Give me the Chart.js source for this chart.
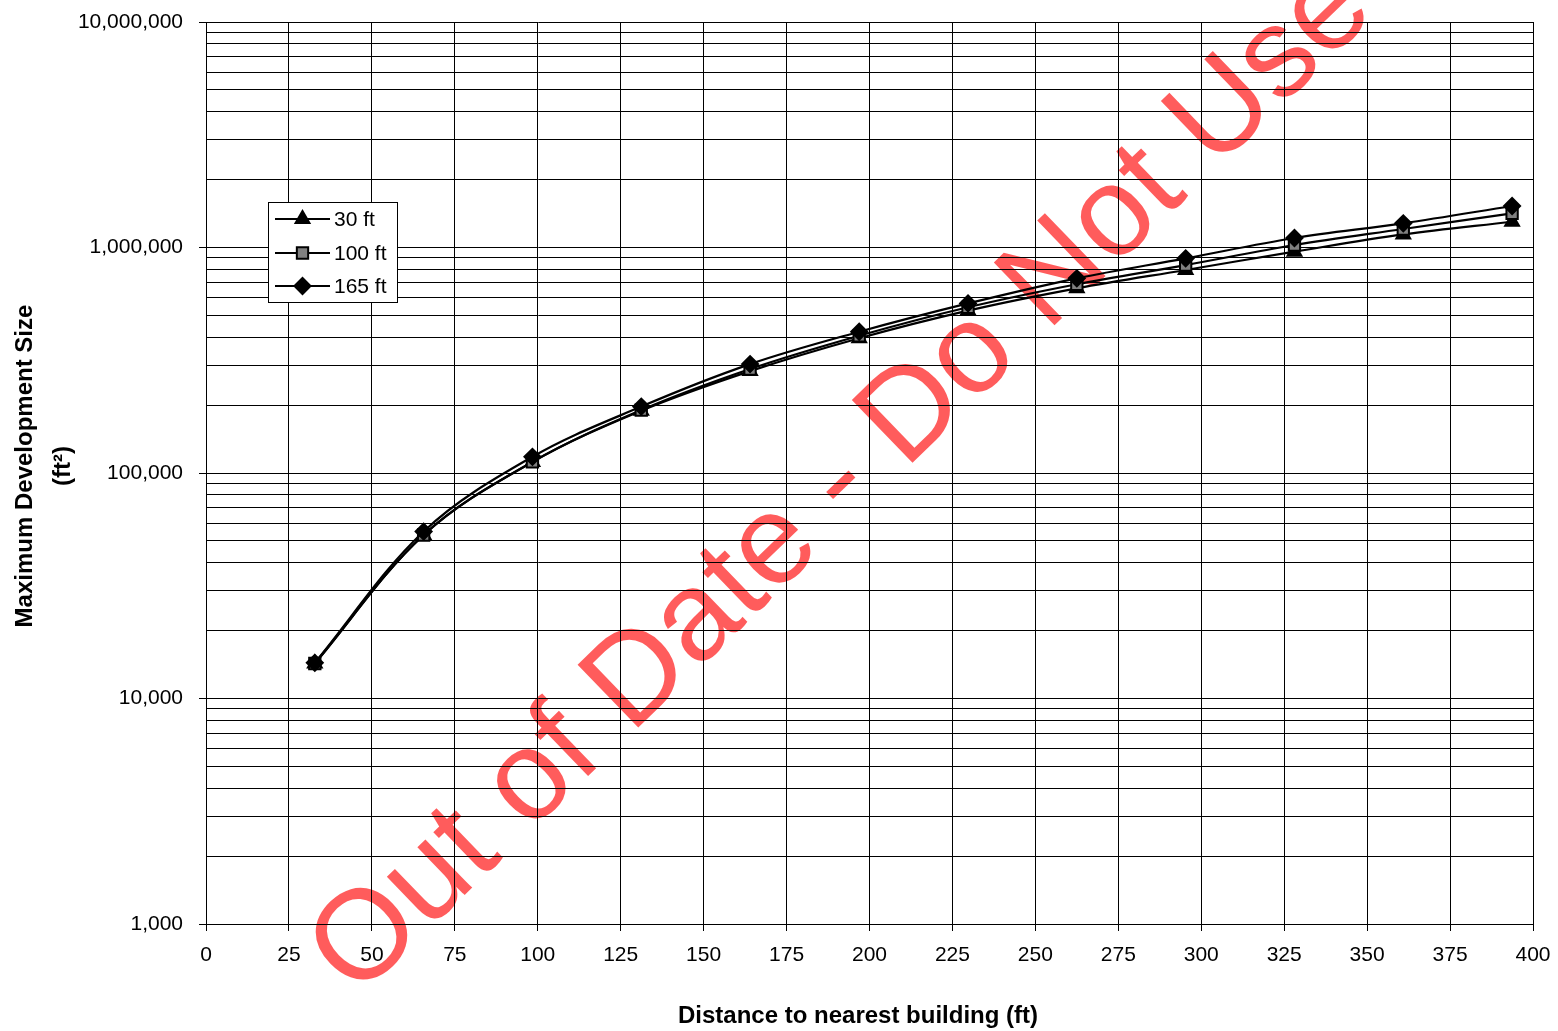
<!DOCTYPE html>
<html><head><meta charset="utf-8">
<script src="https://cdn.jsdelivr.net/npm/chart.js@4/dist/chart.umd.min.js"></script>
<style>html,body{margin:0;padding:0;background:#fff;}#wrap{width:1558px;height:1031px;position:relative;}</style>
</head><body><div id="wrap"><canvas id="c"></canvas></div>
<script>
// ---- data ----
const distances = [32.8, 65.6, 98.4, 131.2, 164.0, 196.9, 229.7, 262.5, 295.3, 328.1, 360.9, 393.7];
const size30  = [14300, 53100, 112000, 189000, 283000, 396000, 525000, 659000, 795000, 958000, 1143000, 1301000];
const size100 = [14300, 53100, 112000, 190000, 289000, 406000, 543000, 687000, 836000, 1026000, 1208000, 1418000];
const size165 = [14400, 55000, 118000, 197000, 304000, 423000, 565000, 730000, 895000, 1102000, 1280000, 1528000];
const seriesNames = ['30 ft', '100 ft', '165 ft'];
const xTickStep = 25;
const xMin = 0, xMax = 400;
const yMajorValues = [1000, 10000, 100000, 1000000, 10000000];
const yTickLabels = ['1,000', '10,000', '100,000', '1,000,000', '10,000,000'];
const xTitle = 'Distance to nearest building (ft)';
const yTitle = ['Maximum Development Size', '(ft²)'];
const watermarkText = 'Out of Date - Do Not Use';

// grid values: 1..9 x each decade
const yGridValues = [];
for (let d = 0; d < yMajorValues.length - 1; d++) {
  for (let k = 1; k <= 9; k++) yGridValues.push(k * yMajorValues[d]);
}
yGridValues.push(yMajorValues[yMajorValues.length - 1]);

const FONT = '"Liberation Sans", Arial, sans-serif';
Chart.defaults.font.family = FONT;
Chart.defaults.color = '#000';

function pts(arr) { return distances.map((x, i) => ({x: x, y: arr[i]})); }
function isMajor(v) { return yMajorValues.some(m => Math.abs(v - m) / m < 1e-6); }

const styles = [
  {pointStyle: 'triangle', bg: '#000', order: 3, r: 8},
  {pointStyle: 'rect', bg: '#808080', order: 2, r: 8},
  {pointStyle: 'rectRot', bg: '#000', order: 1, r: 8}
];
const seriesData = [size30, size100, size165];

const datasets = seriesData.map((arr, i) => ({
  label: seriesNames[i],
  data: pts(arr),
  borderColor: '#000',
  borderWidth: 2.2,
  pointStyle: styles[i].pointStyle,
  pointRadius: styles[i].r,
  pointHoverRadius: styles[i].r,
  pointBackgroundColor: styles[i].bg,
  pointBorderColor: '#000',
  pointBorderWidth: 2,
  tension: 0.35,
  order: styles[i].order,
  clip: false
}));

const decorPlugin = {
  id: 'decor',
  beforeDraw(chart) {
    const ctx = chart.ctx;
    ctx.save();
    ctx.fillStyle = '#fff';
    ctx.fillRect(0, 0, chart.width, chart.height);
    // watermark
    const S = 127;
    ctx.translate(843, 482);
    ctx.rotate(-44 * Math.PI / 180);
    ctx.font = S + 'px ' + FONT;
    ctx.fillStyle = 'rgba(255,0,0,0.64)';
    ctx.textAlign = 'center';
    ctx.textBaseline = 'alphabetic';
    ctx.fillText(watermarkText, 0, 0.27 * S);
    ctx.restore();
  },
  afterDraw(chart) {
    const ctx = chart.ctx;
    ctx.save();
    ctx.fillStyle = '#000';
    ctx.font = 'bold 24px ' + FONT;
    ctx.textAlign = 'center';
    ctx.textBaseline = 'middle';
    ctx.fillText(xTitle, 858, 1016);
    ctx.save();
    ctx.translate(25, 466);
    ctx.rotate(-Math.PI / 2);
    ctx.fillText(yTitle[0], 0, 0);
    ctx.fillText(yTitle[1], 0, 38);
    ctx.restore();

    // legend
    const bx = 268.5, by = 202.5, bw = 129, bh = 100;
    ctx.fillStyle = '#fff';
    ctx.fillRect(bx, by, bw, bh);
    ctx.strokeStyle = '#000';
    ctx.lineWidth = 1;
    ctx.strokeRect(bx, by, bw, bh);
    const rows = [219, 253, 286];
    chart.data.datasets.forEach((ds, i) => {
      const y = rows[i];
      ctx.beginPath();
      ctx.strokeStyle = '#000';
      ctx.lineWidth = 2.2;
      ctx.moveTo(275, y);
      ctx.lineTo(330, y);
      ctx.stroke();
      ctx.fillStyle = ds.pointBackgroundColor;
      ctx.strokeStyle = '#000';
      ctx.lineWidth = 2;
      if (Chart.helpers && Chart.helpers.drawPoint) {
        Chart.helpers.drawPoint(ctx, {pointStyle: ds.pointStyle, radius: ds.pointRadius, rotation: 0, borderWidth: 2}, 302.5, y);
      }
      ctx.fillStyle = '#000';
      ctx.font = '21px ' + FONT;
      ctx.textAlign = 'left';
      ctx.textBaseline = 'middle';
      ctx.fillText(ds.label, 334, y + 1);
    });
    ctx.restore();
  }
};

new Chart(document.getElementById('c'), {
  type: 'line',
  data: {datasets: datasets},
  options: {
    responsive: true,
    maintainAspectRatio: false,
    animation: false,
    events: [],
    layout: {padding: {left: 0, right: 25, top: 22, bottom: 0}},
    plugins: {legend: {display: false}, tooltip: {enabled: false}, title: {display: false}},
    scales: {
      x: {
        type: 'linear', min: xMin, max: xMax,
        ticks: {stepSize: xTickStep, autoSkip: false, maxRotation: 0, font: {size: 21}, padding: 12, color: '#000'},
        grid: {color: '#000', lineWidth: 1, tickLength: 7, tickColor: '#000'},
        border: {color: '#000', width: 1},
        afterFit(s) { s.height = 107; s.paddingLeft = 0; s.paddingRight = 0; }
      },
      y: {
        type: 'logarithmic', min: yMajorValues[0], max: yMajorValues[yMajorValues.length - 1],
        afterBuildTicks(s) { s.ticks = yGridValues.map(v => ({value: v, major: false})); },
        ticks: {
          autoSkip: false, font: {size: 21}, padding: 16, color: '#000',
          callback(v) {
            const idx = yMajorValues.findIndex(m => Math.abs(v - m) / m < 1e-6);
            return idx >= 0 ? yTickLabels[idx] : '';
          }
        },
        grid: {
          color: '#000', lineWidth: 1, tickLength: 7,
          tickColor: (c) => (c.tick && isMajor(c.tick.value)) ? '#000' : 'rgba(0,0,0,0)'
        },
        border: {color: '#000', width: 1},
        afterFit(s) { s.width = 206; s.paddingTop = 0; s.paddingBottom = 0; }
      }
    }
  },
  plugins: [decorPlugin]
});
</script>
</body></html>
